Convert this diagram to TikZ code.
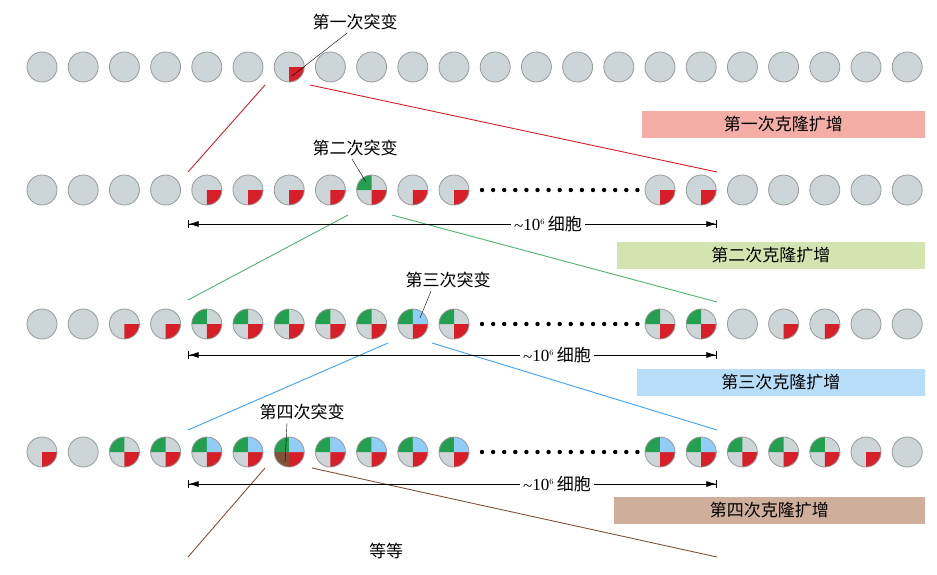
\documentclass[tikz,border=0pt]{standalone}
\usepackage{fontspec}
\newfontfamily\cjk{Noto Sans CJK SC}
\setmainfont{Liberation Serif}
\usetikzlibrary{arrows.meta}
\definecolor{cg}{HTML}{CCD5D7}
\definecolor{cr}{HTML}{D81E28}
\definecolor{cgr}{HTML}{23A04F}
\definecolor{cb}{HTML}{92CDF8}
\definecolor{cbr}{HTML}{83513A}
\tikzset{lab/.style={font=\cjk\fontsize{17}{19}\selectfont,inner sep=1pt},
 bar/.style={minimum height=27pt,font=\cjk\fontsize{17}{19}\selectfont,anchor=east,inner sep=0pt},
 dim/.style={{Bar[width=8pt]Latex[length=10pt,width=6pt]}-{Latex[length=10pt,width=6pt]Bar[width=8pt]},line width=0.7pt}}
\newcommand{\cel}[6]{% x y red green blue brown
 \fill[cg] (#1,#2) circle (15);
 \ifnum#3=1 \fill[cr] (#1,#2) -- (#1+15,#2) arc (0:90:15) -- cycle;\fi
 \ifnum#4=1 \fill[cgr] (#1,#2) -- (#1-15,#2) arc (180:270:15) -- cycle;\fi
 \ifnum#5=1 \fill[cb] (#1,#2) -- (#1,#2-15) arc (270:360:15) -- cycle;\fi
 \ifnum#6=1 \fill[cbr] (#1,#2) -- (#1-15,#2) arc (180:90:15) -- cycle;\fi
 \draw[gray!80,line width=0.8pt] (#1,#2) circle (15);}
\begin{document}
\begin{tikzpicture}[x=1pt,y=-1pt]
\useasboundingbox (0,0) rectangle (937,574);
% row 1
\foreach \i in {0,...,21}{\pgfmathsetmacro\xx{42+41.2*\i}
 \ifnum\i=6 \cel{\xx}{67}{1}{0}{0}{0}\else \cel{\xx}{67}{0}{0}{0}{0}\fi}
% row 2
\foreach \i/\r/\g in {0/0/0,1/0/0,2/0/0,3/0/0,4/1/0,5/1/0,6/1/0,7/1/0,8/1/1,9/1/0,10/1/0,15/1/0,16/1/0,17/0/0,18/0/0,19/0/0,20/0/0,21/0/0}{\pgfmathsetmacro\xx{42+41.2*\i}\cel{\xx}{190}{\r}{\g}{0}{0}}
% row 3
\foreach \i/\r/\g/\b in {0/0/0/0,1/0/0/0,2/1/0/0,3/1/0/0,4/1/1/0,5/1/1/0,6/1/1/0,7/1/1/0,8/1/1/0,9/1/1/1,10/1/1/0,15/1/1/0,16/1/1/0,17/0/0/0,18/1/0/0,19/1/0/0,20/0/0/0,21/0/0/0}{\pgfmathsetmacro\xx{42+41.2*\i}\cel{\xx}{324}{\r}{\g}{\b}{0}}
% row 4
\foreach \i/\r/\g/\b/\w in {0/1/0/0/0,1/0/0/0/0,2/1/1/0/0,3/1/1/0/0,4/1/1/1/0,5/1/1/1/0,6/1/1/1/1,7/1/1/1/0,8/1/1/1/0,9/1/1/1/0,10/1/1/1/0,15/1/1/1/0,16/1/1/1/0,17/1/1/0/0,18/1/1/0/0,19/1/1/0/0,20/1/0/0/0,21/0/0/0/0}{\pgfmathsetmacro\xx{42+41.2*\i}\cel{\xx}{452}{\r}{\g}{\b}{\w}}
% dots
\foreach \y in {190,324,452}{\foreach \k in {0,...,14}{\fill (482+11.1*\k,\y) circle (2.2);}}
% expansion lines
\draw[cr,line width=0.9pt] (265,85) -- (188,172) (310,85) -- (717,172);
\draw[cgr!80,line width=0.9pt] (348,215) -- (188,300) (392,215) -- (717,302);
\draw[cb!60!blue!70!cyan,line width=0.9pt] (388,343) -- (188,430) (432,343) -- (717,430);
\draw[cbr,line width=0.9pt] (265,468) -- (188,557) (312,468) -- (717,557);
% dimensions
\foreach \y/\xl in {224/548,355/557,484/557}{
 \coordinate (a\y) at (188,\y); \coordinate (b\y) at (717,\y);
 \draw[dim] (a\y) -- (b\y);
 \node[fill=white,inner sep=3pt,font=\fontsize{17}{19}\selectfont] (l\y) at (\xl,\y) {\raisebox{-1pt}{\textasciitilde}10$^{\scriptscriptstyle 6}$\,{\cjk 细胞}};}
% mutation labels
\node[lab] (m1) at (355,22) {第一次突变}; \coordinate (p1) at (292,76); \draw (m1.south) ++(-8,2) -- (p1);
\node[lab] (m2) at (355,148) {第二次突变}; \coordinate (p2) at (366,182); \draw (m2.south) ++(-3,2) -- (p2);
\node[lab] (m3) at (448,280) {第三次突变}; \coordinate (p3) at (420,318); \draw (m3.south) ++(-17,2) -- (p3);
\node[lab] (m4) at (302,412) {第四次突变}; \coordinate (p4) at (285,462); \draw (m4.south) ++(-15,2) -- (p4);
% bars
\node[bar,fill={rgb,255:red,244;green,174;blue,166},minimum width=283pt] (c1) at (925,124) {第一次克隆扩增};
\node[bar,fill={rgb,255:red,211;green,228;blue,176},minimum width=308pt] (c2) at (925,255) {第二次克隆扩增};
\node[bar,fill={rgb,255:red,184;green,221;blue,248},minimum width=288pt] (c3) at (925,382) {第三次克隆扩增};
\node[bar,fill={rgb,255:red,207;green,174;blue,156},minimum width=311pt] (c4) at (925,510) {第四次克隆扩增};
\node[lab] (etc) at (386,551) {等等};
\end{tikzpicture}
\end{document}
